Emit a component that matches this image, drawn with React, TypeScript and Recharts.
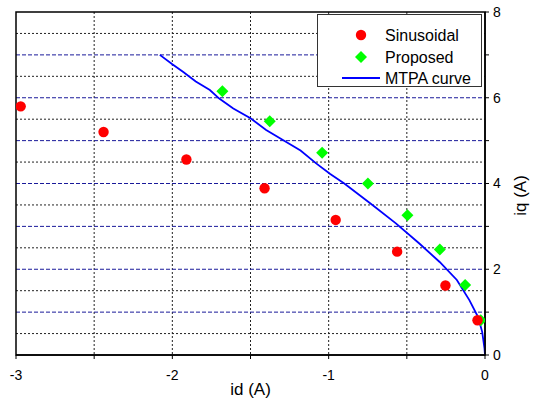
import {
  ComposedChart,
  Scatter,
  Line,
  XAxis,
  YAxis,
  CartesianGrid,
  Legend,
  ReferenceArea,
  Label,
} from 'recharts'

// values
const sinusoidalId = [-2.97, -2.44, -1.91, -1.41, -0.955, -0.562, -0.253, -0.048]
const sinusoidalIq = [5.8, 5.2, 4.56, 3.89, 3.15, 2.41, 1.62, 0.81]

const proposedId = [-1.68, -1.377, -1.042, -0.749, -0.496, -0.289, -0.127, -0.027]
const proposedIq = [6.15, 5.45, 4.72, 4.0, 3.26, 2.46, 1.63, 0.81]

const mtpaId = [
  -2.08, -2.0, -1.93, -1.85, -1.76, -1.7, -1.61, -1.5, -1.4, -1.29, -1.18, -1.08,
  -0.99, -0.9, -0.72, -0.57, -0.42, -0.29, -0.18, -0.1, -0.045, -0.018, -0.003, 0,
]
const mtpaIq = [
  7.0, 6.78, 6.6, 6.38, 6.18, 5.98, 5.75, 5.52, 5.25, 5.01, 4.77, 4.47,
  4.22, 4.0, 3.5, 3.07, 2.6, 2.17, 1.75, 1.28, 0.89, 0.54, 0.15, 0,
]

const xTicks = [-3, -2.5, -2, -1.5, -1, -0.5, 0]
const yTicks = [0, 1, 2, 3, 4, 5, 6, 7, 8]
const xGrid = [-2.5, -2, -1.5, -1, -0.5]
const yHalfGrid = [0.5, 1.5, 2.5, 3.5, 4.5, 5.5, 6.5, 7.5]
const yIntGrid = [1, 2, 3, 4, 5, 6, 7]

const zip = (xs: number[], ys: number[]) => xs.map((x, i) => ({ x, y: ys[i] }))
const sinusoidal = zip(sinusoidalId, sinusoidalIq)
const proposed = zip(proposedId, proposedIq)
const mtpa = zip(mtpaId, mtpaIq)

const FONT = '"Liberation Sans", Arial, sans-serif'
const RED = '#ff0000'
const GREEN = '#00ff00'
const BLUE = '#0000ff'

const Dot = (p: any) => <circle cx={p.cx} cy={p.cy} r={5.2} fill={RED} />
const Diamond = (p: any) => {
  const s = 6
  return (
    <polygon
      points={`${p.cx},${p.cy - s} ${p.cx + s},${p.cy} ${p.cx},${p.cy + s} ${p.cx - s},${p.cy}`}
      fill={GREEN}
    />
  )
}

function LegendBox() {
  return (
    <div
      style={{
        width: 165,
        height: 73,
        boxSizing: 'border-box',
        border: '1.5px solid #333',
        background: '#fff',
      }}
    >
      <svg width={162} height={70} style={{ display: 'block' }}>
        <circle cx={43} cy={20} r={5.2} fill={RED} />
        <polygon points="43,36 49,42 43,48 37,42" fill={GREEN} />
        <line x1={24} x2={62} y1={63} y2={63} stroke={BLUE} strokeWidth={1.8} />
        <g fontFamily={FONT} fontSize={16} fill="#000" dominantBaseline="central">
          <text x={67} y={20}>Sinusoidal</text>
          <text x={67} y={42}>Proposed</text>
          <text x={67} y={63}>MTPA curve</text>
        </g>
      </svg>
    </div>
  )
}

export default function App() {
  const tickStyle = { fontSize: 14, fill: '#000', fontFamily: FONT }
  return (
    <div style={{ position: 'absolute', left: 0, top: 0, width: 538, height: 400, background: '#fff' }}>
      <ComposedChart width={538} height={400} margin={{ top: 12, right: 0, bottom: 0, left: 16 }}>
        <CartesianGrid
          horizontalValues={yHalfGrid}
          verticalValues={xGrid}
          stroke="#222"
          strokeDasharray="2 2"
        />
        <CartesianGrid
          vertical={false}
          horizontalValues={yIntGrid}
          stroke="#1a1a9a"
          strokeDasharray="4 2"
        />
        <XAxis
          type="number"
          dataKey="x"
          domain={[-3, 0]}
          ticks={xTicks}
          interval={0}
          allowDataOverflow
          tickFormatter={(v) => (Number.isInteger(v) ? String(v) : '')}
          tick={tickStyle}
          tickLine={{ stroke: '#000' }}
          tickSize={4}
          tickMargin={11}
          axisLine={{ stroke: '#000', strokeWidth: 1.5 }}
          height={45}
        >
          <Label value="id (A)" position="insideBottom" offset={5} fontSize={17} fill="#000" fontFamily={FONT} />
        </XAxis>
        <YAxis
          type="number"
          orientation="right"
          domain={[0, 8]}
          ticks={yTicks}
          interval={0}
          allowDataOverflow
          tickFormatter={(v) => (v % 2 === 0 ? String(v) : '')}
          tick={tickStyle}
          tickLine={{ stroke: '#000' }}
          tickSize={4}
          tickMargin={4}
          axisLine={{ stroke: '#000', strokeWidth: 1.5 }}
          width={53}
        >
          <Label
            position="center"
            content={(props: any) => {
              const vb = props.viewBox || { x: 485, y: 12, width: 53, height: 343 }
              const x = vb.x + 35
              const y = vb.y + vb.height / 2 + 12
              return (
                <text
                  x={x}
                  y={y}
                  transform={`rotate(-90 ${x} ${y})`}
                  textAnchor="middle"
                  dominantBaseline="central"
                  fontSize={17}
                  fontFamily={FONT}
                  fill="#000"
                >
                  iq (A)
                </text>
              )
            }}
          />
        </YAxis>
        <ReferenceArea x1={-3} x2={0} y1={0} y2={8} fill="none" fillOpacity={0} stroke="#000" strokeWidth={1.5} />
        <Line
          data={mtpa}
          dataKey="y"
          type="linear"
          stroke={BLUE}
          strokeWidth={1.8}
          dot={false}
          isAnimationActive={false}
        />
        <Scatter data={proposed} dataKey="y" shape={Diamond} isAnimationActive={false} />
        <Scatter data={sinusoidal} dataKey="y" shape={Dot} isAnimationActive={false} />
        <Legend
          layout="vertical"
          align="center"
          verticalAlign="middle"
          wrapperStyle={{ left: 317, top: 14, width: 165, height: 73 }}
          content={() => <LegendBox />}
        />
      </ComposedChart>
    </div>
  )
}
